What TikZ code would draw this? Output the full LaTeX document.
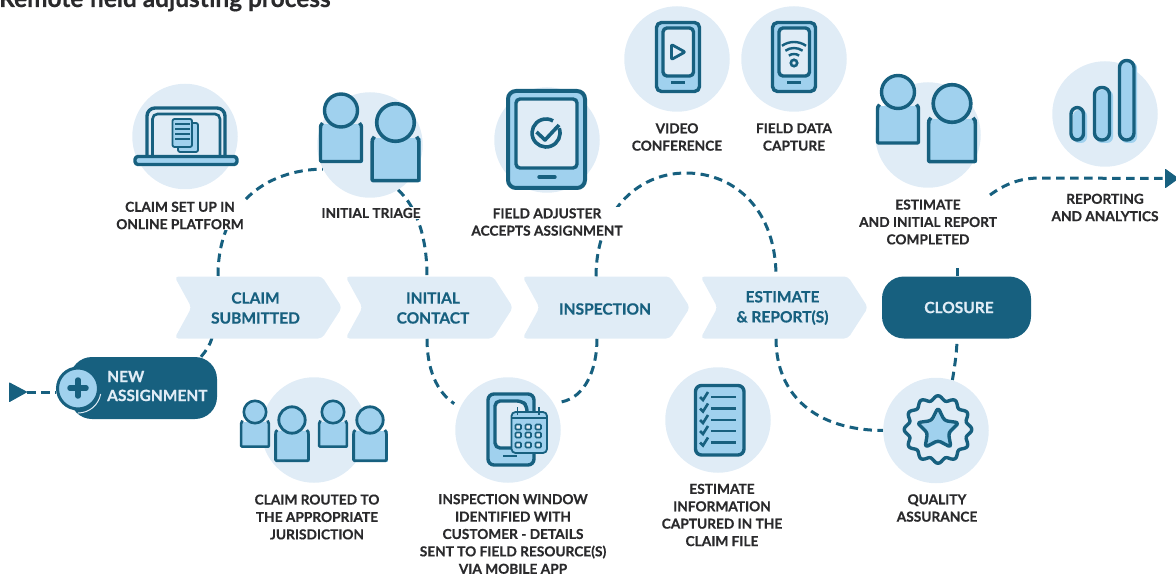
\documentclass[tikz,border=0pt]{standalone}
\usepackage{fontspec}
\setmainfont{Lato}[BoldFeatures={FakeBold=0.5}]
\usetikzlibrary{calc}
\definecolor{dk}{HTML}{17607F}
\definecolor{lt}{HTML}{E0ECF6}
\definecolor{md}{HTML}{A0D1EE}
\definecolor{ink}{HTML}{2A2A2C}
\pgfdeclarelayer{bg}
\pgfsetlayers{bg,main}
\tikzset{
  conn/.style={draw=dk,line width=3pt,dash pattern=on 8.5pt off 5.5pt},
  disc/.style={circle,fill=lt,minimum size=105.5pt,inner sep=0pt},
  lab/.style={font=\fontsize{13.7}{17.4}\selectfont\bfseries,text=ink,align=center,fill=white,inner sep=1pt},
  stage/.style={font=\fontsize{15.5}{20}\selectfont\bfseries,text=dk,align=center,inner sep=0pt},
  ic/.style={draw=dk,line width=3.4pt,line join=round},
  pill/.style={fill=dk,rounded corners=22pt,inner sep=0pt},
  tip/.style={fill=dk,draw=dk,line width=1pt,line join=round}
}
\newcommand{\personicon}[4]{%
\begin{scope}[shift={(#1,#2)},scale=#3]
\fill[md] (-19.5,14) -- (-19.5,52.5) -- (22,52.5) -- (22,14) -- cycle;
\draw[draw=dk,line width=#4,line join=round,rounded corners=1pt] (-18.5,12.5) .. controls (-20.5,14) and (-20.5,16) .. (-20.5,19) -- (-20.5,51) -- (20.5,51) -- (20.5,19) .. controls (20.5,16) and (20.5,14) .. (18.5,12.5);
\filldraw[fill=md,draw=dk,line width=#4] (0,0) circle (16.5);
\end{scope}}
\newcommand{\chevron}[2]{%
\fill[lt,rounded corners=4pt] ({#1-1.5},276.5) -- ({#1+146},276.5) -- ({#1+166},307.5) -- ({#1+146},338.5) -- ({#1-1.5},338.5) -- ({#1+15.5},307.5) -- cycle;
\coordinate (#2) at ({#1+82},307.5);}
\newcommand{\phoneicon}[2]{%
\begin{scope}[shift={(#1,#2)}]
\filldraw[ic,fill=md,rounded corners=5pt] (-21.5,-34.5) rectangle (21.5,34.5);
\filldraw[ic,fill=lt,rounded corners=4pt] (-15,-29) rectangle (15.5,19);
\draw[dk,line width=3pt] (-7,26) -- (7,26);
\end{scope}}
\begin{document}
\begin{tikzpicture}[x=1pt,y=-1pt]
\useasboundingbox (0,0) rectangle (1176,575);
% discs
\node[disc] (laptop) at (185,136.5) {};
\node[disc] (triage) at (370,145) {};
\node[disc] (routed) at (314,430) {};
\node[disc] (tablet) at (547,140) {};
\node[disc] (video) at (677,59) {};
\node[disc] (fielddata) at (794,59) {};
\node[disc] (window) at (508,430) {};
\node[disc] (info) at (718,420) {};
\node[disc] (quality) at (936,430.5) {};
\node[disc] (estdone) at (928,135) {};
\node[disc] (report) at (1105,114) {};
% stages
\chevron{176}{cs}
\chevron{347}{ic}
\chevron{524}{in}
\chevron{702}{er}
\node[stage] (cst) at (255.5,308) {CLAIM\\SUBMITTED};
\node[stage] (ict) at (433,308) {INITIAL\\CONTACT};
\node[stage] (int) at (605,309) {INSPECTION};
\node[stage] (ert) at (782.5,308) {ESTIMATE\\\& REPORT(S)};
\node[pill,minimum width=149pt,minimum height=62pt,font=\fontsize{15.5}{20}\selectfont\bfseries,text=lt] (closure) at (956.5,307.5) {\hspace*{5pt}CLOSURE};
\node[pill,minimum width=147pt,minimum height=62pt] (newa) at (143.5,388) {};
\node[font=\fontsize{15.5}{19}\selectfont\bfseries,text=lt,align=left,anchor=west,inner sep=0pt] (newt) at (107,386) {NEW\\ASSIGNMENT};
\filldraw[fill=md,draw=dk,line width=3pt] (78,388.5) circle (20.5);
\node[circle,inner sep=0pt,minimum size=44pt] (plus) at (78,392) {};
\draw[lt,line width=1pt] ($(78,390)+(10:23)$) arc[start angle=10,delta angle=80,radius=23];
\draw[dk,line width=5.5pt,line cap=round] (70,388) -- (86,388) (78,380) -- (78,396);
% arrowheads
\filldraw[tip] (9.5,383) -- (26.5,392) -- (9.5,401.5) -- cycle;
\coordinate (startarrow) at (27,392);
\filldraw[tip] (1165.5,169.5) -- (1178,178.5) -- (1165.5,187.5) -- cycle;
\coordinate (endarrow) at (1165,178.5);
\coordinate (estfree) at (990,195);
\coordinate (closefree) at (957,265);
\coordinate (cstop) at (218,276);
\coordinate (csbot) at (212,338);
% connectors
\begin{pgfonlayer}{bg}
\draw[conn] (startarrow) -- (plus.180);
\draw[conn] (newa.north -| 201,0) .. controls (206,351) and (210,345) .. (csbot);
\draw[conn] (cstop) .. controls (218,205) and (265,170) .. (triage.207);
\draw[conn] (triage.302) .. controls (418,208) and (427,240) .. ($(ic)+(-2,-31)$);
\draw[conn,shorten >=7pt] ($(ic)+(-2,31)$) .. controls (427,370) and (437,392) .. (window.155);
\draw[conn,shorten <=8pt] (window.30) .. controls (585,397) and (597,370) .. ($(in)+(-9,31)$);
\draw[conn] ($(in)+(-10,-31)$) .. controls (596,215) and (635,173) .. (686,173) .. controls (735,173) and (776,210) .. ($(er)+(-8,-31)$);
\draw[conn] ($(er)+(-8,31)$) .. controls (776,395) and (815,430) .. (quality.180);
\draw[conn] (quality.72) .. controls (955,365) and (957,350) .. (closure.south -| 957,0);
\draw[conn] (closure.north -| 957,0) -- (closefree);
\draw[conn] (estfree) .. controls (1005,184) and (1020,178) .. (1040,178) -- (endarrow);
\end{pgfonlayer}
% laptop
\filldraw[ic,fill=lt,rounded corners=8pt] (147,158) -- (147,108) -- (225,108) -- (225,158);
\draw[dk,line width=2.6pt,rounded corners=5pt] (152.5,158) -- (152.5,114) -- (220,114) -- (220,158);
\filldraw[ic,fill=md,rounded corners=3pt] (135,156.5) rectangle (237,164.5);
\filldraw[draw=dk,line width=1.8pt,fill=md,rounded corners=2pt] (178,123) rectangle (198,152);
\filldraw[draw=dk,line width=1.8pt,fill=md,rounded corners=2pt] (172.5,119) rectangle (192,147);
\foreach \yy in {124,129,134,139} \draw[dk,line width=1.5pt] (175,\yy) -- (190,\yy);
% persons
\personicon{341}{110.5}{1}{3.4pt}
\personicon{395.5}{122.5}{1.14}{3.6pt}
\personicon{255}{412}{0.68}{2.6pt}
\personicon{292}{420}{0.8}{2.8pt}
\personicon{333}{412}{0.68}{2.6pt}
\personicon{370}{420}{0.8}{2.8pt}
\personicon{898}{92}{1}{3.4pt}
\personicon{952}{103.5}{1.14}{3.6pt}
% tablet
\filldraw[draw=dk,line width=4pt,fill=md,rounded corners=8pt] (508,91) rectangle (585,188);
\filldraw[draw=dk,line width=3.4pt,fill=lt,rounded corners=4pt] (516,99) rectangle (577,168);
\draw[dk,line width=3.4pt,line cap=round] (539,177) -- (555,177);
\draw[dk,line width=3.6pt] (559.2,128.2) arc[start angle=-20,delta angle=320,radius=14];
\draw[dk,line width=3.6pt,line join=round] (536.5,132) -- (545,140) -- (559,125);
% phones
\phoneicon{678}{57}
\draw[dk,line width=2.8pt,line join=round,rounded corners=1pt] (671.5,44.5) -- (685,52) -- (671.5,59.5) -- cycle;
\phoneicon{794}{57}
\draw[dk,line width=2.6pt] (794,63) circle (3.2);
\foreach \rr in {9,15,21} \draw[dk,line width=2.4pt] ($(794,63)+(-55:\rr)$) arc[start angle=-55,delta angle=-70,radius=\rr];
% window: phone and calendar
\filldraw[ic,fill=md,rounded corners=6pt] (488,394) rectangle (534,465);
\filldraw[ic,fill=lt,rounded corners=5pt] (495,401) -- (522,401) -- (527,406) -- (527,448) -- (495,448) -- cycle;
\draw[dk,line width=2.8pt] (503,456) -- (517,456);
\filldraw[draw=dk,line width=1.8pt,fill=md,rounded corners=4pt] (511.5,412) rectangle (547,453);
\draw[dk,line width=1.8pt] (517.5,407) -- (517.5,415) (539,407) -- (539,415) (511.5,418) -- (547,418);
\foreach \cx in {518,528,538} \foreach \cy in {427,435,445}
  \draw[dk,line width=1.6pt,rounded corners=1pt,fill=lt] ($(\cx,\cy)+(-2.5,-2.5)$) rectangle ($(\cx,\cy)+(3,2.5)$);
% checklist
\filldraw[ic,fill=md,rounded corners=6pt] (695.5,385.5) rectangle (744,455);
\foreach \yy in {397,408.5,420,431,442.5}{
  \draw[dk,line width=2.8pt] (711,\yy) -- (736,\yy);
  \draw[dk,line width=2.6pt] (700,\yy) -- (703,{\yy+3}) -- (708,{\yy-5});
}
% badge
\begin{scope}[shift={(938,429.5)}]
\draw[dk,line width=3.4pt,line join=round,smooth cycle] plot[domain=0:357,samples=120,smooth cycle] (\x:{31.5+2.3*cos(12*\x)});
\fill[md,rounded corners=3pt,shift={(1.5,1.5)}] (-90:22) -- (-54:11) -- (-18:22) -- (18:11) -- (54:22) -- (90:11) -- (126:22) -- (162:11) -- (198:22) -- (234:11) -- cycle;
\draw[dk,line width=3.4pt,line join=round,rounded corners=3pt] (-90:22) -- (-54:11) -- (-18:22) -- (18:11) -- (54:22) -- (90:11) -- (126:22) -- (162:11) -- (198:22) -- (234:11) -- cycle;
\end{scope}
% bars
\fill[md,rounded corners=6pt] (1073,110) rectangle (1087,143);
\fill[md,rounded corners=6pt] (1096,90) rectangle (1113,143);
\fill[md,rounded corners=6pt] (1121,62) rectangle (1137,143);
\draw[ic,rounded corners=6.5pt] (1071,107.5) rectangle (1083.5,140);
\draw[ic,rounded corners=7pt] (1094.5,87.5) rectangle (1109.5,140);
\draw[ic,rounded corners=7pt] (1119.5,60.5) rectangle (1134,140);
% labels
\node[lab] (l1) at (180,215.5) {CLAIM SET UP IN\\ONLINE PLATFORM};
\node[lab,inner xsep=5pt] (l2) at (371,213) {INITIAL TRIAGE};
\node[lab] (l3) at (547,222) {FIELD ADJUSTER\\ACCEPTS ASSIGNMENT};
\node[lab] (l4) at (677,137) {VIDEO\\CONFERENCE};
\node[lab] (l5) at (794,137) {FIELD DATA\\CAPTURE};
\node[lab] (l6) at (928,222) {ESTIMATE\\AND INITIAL REPORT\\COMPLETED};
\node[lab] (l7) at (1105,207.5) {REPORTING\\AND ANALYTICS};
\node[lab] (l8) at (317,517) {CLAIM ROUTED TO\\THE APPROPRIATE\\JURISDICTION};
\node[lab] (l9) at (513,534) {INSPECTION WINDOW\\IDENTIFIED WITH\\CUSTOMER - DETAILS\\SENT TO FIELD RESOURCE(S)\\VIA MOBILE APP};
\node[lab] (l10) at (722,515) {ESTIMATE\\INFORMATION\\CAPTURED IN THE\\CLAIM FILE};
\node[lab] (l11) at (937,508) {QUALITY\\ASSURANCE};
\node[font=\fontsize{24.4}{28}\selectfont\bfseries,text=ink,anchor=base west,inner sep=0pt] (title) at (-1,7) {Remote field adjusting process};
\end{tikzpicture}
\end{document}
